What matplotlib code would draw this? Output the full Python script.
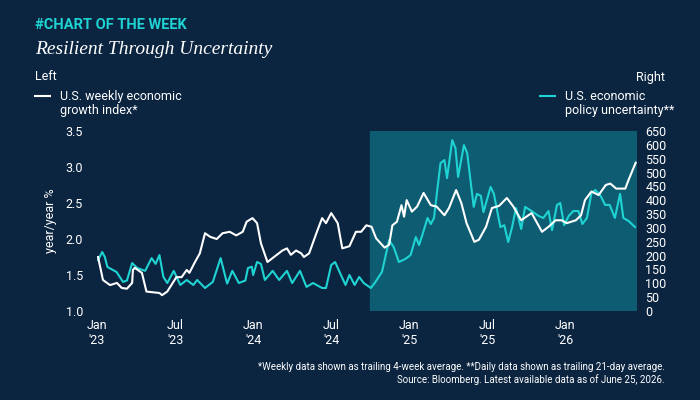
import numpy as np
import matplotlib.pyplot as plt

# months since Jan 2023
growth_m = [0.08, 0.46, 1.0, 1.53, 1.9, 2.3, 2.7, 2.76, 2.9, 3.45, 3.8, 4.8, 5.0, 5.4, 6.1, 6.5, 6.9,
            7.1, 7.5, 7.9, 8.3, 8.7, 9.2, 9.65, 10.2, 10.7, 11.2, 11.5, 11.95, 12.3, 12.6, 13.1, 13.6,
            14.25, 14.6, 14.9, 15.3, 15.7, 15.9, 16.3, 16.9, 17.3, 17.6, 18.0, 18.5, 18.85, 19.4, 19.9,
            20.3, 20.7, 21.1, 21.45, 22.1, 22.45, 22.7, 23.05, 23.4, 23.6, 23.8, 24.2, 24.6, 25.1, 25.65,
            26.1, 26.7, 27.05, 27.6, 28.0, 28.4, 29.0, 29.35, 29.9, 30.35, 30.9, 31.5, 32.0, 32.6, 33.4,
            34.2, 34.7, 35.25, 35.7, 36.1, 36.8, 37.2, 37.5, 38.0, 38.55, 39.1, 39.45, 39.9, 40.6, 40.85, 41.4]
growth = [1.75, 1.43, 1.36, 1.39, 1.32, 1.31, 1.39, 1.57, 1.6, 1.53, 1.27, 1.25, 1.22, 1.27, 1.47, 1.47, 1.57,
          1.53, 1.67, 1.8, 2.08, 2.03, 2.0, 2.08, 2.1, 2.05, 2.1, 2.24, 2.29, 2.22, 1.94, 1.68, 1.75,
          1.84, 1.87, 1.78, 1.84, 1.8, 1.75, 1.8, 2.1, 2.29, 2.22, 2.36, 2.22, 1.87, 1.9, 2.1,
          2.1, 2.19, 2.17, 2.01, 1.88, 1.92, 2.19, 2.24, 2.47, 2.31, 2.54, 2.38, 2.45, 2.64, 2.47,
          2.45, 2.33, 2.43, 2.68, 2.5, 2.22, 1.96, 1.99, 2.17, 2.43, 2.46, 2.57, 2.45, 2.26, 2.36,
          2.1, 2.17, 2.26, 2.26, 2.22, 2.26, 2.33, 2.54, 2.66, 2.61, 2.75, 2.77, 2.7, 2.7, 2.82, 3.06]

unc_m = [0.08, 0.4, 0.6, 0.8, 1.5, 2.0, 2.3, 2.7, 3.1, 3.7, 4.2, 4.5, 4.8, 5.1, 5.4, 5.9, 6.4, 6.9, 7.4,
         7.7, 8.3, 8.9, 9.5, 10.0, 10.4, 10.9, 11.4, 11.6, 11.9, 12.0, 12.3, 12.6, 12.9, 13.5, 14.0,
         14.6, 15.0, 15.6, 16.1, 16.6, 17.3, 17.6, 18.0, 18.3, 18.6, 19.1, 19.4, 19.8, 20.15, 20.5,
         21.05, 21.4, 21.9, 22.45, 22.8, 23.2, 23.7, 24.1, 24.5, 24.75, 25.0, 25.4, 25.65, 25.9, 26.15,
         26.4, 26.7, 26.9, 27.3, 27.55, 27.75, 28.2, 28.45, 28.95, 29.2, 29.5, 29.7, 30.25, 30.5, 31.0,
         31.3, 31.6, 31.9, 32.2, 32.6, 32.9, 33.4, 33.95, 34.3, 34.7, 34.97, 35.35, 35.6, 35.9, 36.25,
         36.6, 37.0, 37.3, 37.65, 38.0, 38.3, 38.7, 39.05, 39.4, 39.8, 40.2, 40.45, 40.85, 41.35]
unc = [184, 213, 195, 159, 141, 105, 110, 173, 155, 145, 191, 170, 202, 123, 101, 145, 94, 112, 94,
       112, 83, 105, 191, 99, 145, 101, 110, 155, 160, 130, 177, 170, 112, 145, 112,
       145, 101, 145, 87, 101, 83, 83, 166, 177, 145, 94, 130, 94, 123, 101,
       83, 105, 141, 256, 231, 177, 188, 202, 267, 238, 274, 336, 314, 336, 437,
       534, 545, 480, 617, 588, 484, 599, 570, 376, 423, 416, 357, 448, 423, 303,
       310, 249, 303, 372, 296, 376, 361, 343, 336, 361, 292, 383, 390, 310, 343,
       361, 361, 314, 336, 426, 437, 416, 383, 383, 336, 423, 336, 325, 303]

tick_pos = [0, 6, 12, 18, 24, 30, 36]
tick_lab = ["Jan\n'23", "Jul\n'23", "Jan\n'24", "Jul\n'24", "Jan\n'25", "Jul\n'25", "Jan\n'26"]

bg = '#0b2440'
cyan = '#1fd3d3'
fg = 'white'
plt.rcParams['font.family'] = ['Roboto', 'DejaVu Sans']

fig = plt.figure(figsize=(7, 4), dpi=100, facecolor=bg)
ax = fig.add_axes([97/700, 1-311/400, 540/700, 180/400])
ax.set_facecolor(bg)
ax.plot(growth_m, growth, color=fg, lw=1.5, zorder=3)
ax.set_xlim(0, 41.5)
ax.set_ylim(1.0, 3.5)
ax.set_yticks(np.arange(1.0, 3.51, 0.5))
ax.set_yticklabels(['%.1f' % v for v in np.arange(1.0, 3.51, 0.5)])
ax.set_xticks(tick_pos)
ax.set_xticklabels(tick_lab)
ax.set_ylabel('year/year %', color=fg, fontsize=9, labelpad=6)

ax2 = ax.twinx()
ax2.axvspan(21.0, 41.5, color='#0e5c72', zorder=0)
ax2.plot(unc_m, unc, color=cyan, lw=1.5, zorder=2)
ax2.set_ylim(0, 650)
ax2.set_yticks(range(0, 651, 50))
# growth line on top, uncertainty + shading beneath
ax.set_zorder(ax2.get_zorder() + 1)
ax.patch.set_visible(False)

for a in (ax, ax2):
    for s in a.spines.values():
        s.set_visible(False)
    a.tick_params(colors=fg, labelsize=9, length=0)
ax.tick_params(axis='y', pad=10)
ax2.tick_params(axis='y', pad=6)
ax.tick_params(axis='x', pad=6)

fig.text(35/700, 1-25/400, '#CHART OF THE WEEK', color=cyan, fontsize=10.5, fontweight='bold',
         va='center', fontstretch='condensed')
fig.text(35/700, 1-50/400, 'Resilient Through Uncertainty', color=fg, fontsize=14, style='italic',
         va='center', family=['Liberation Serif', 'DejaVu Serif'])
fig.text(35/700, 1-77/400, 'Left', color=fg, fontsize=9, va='center')
fig.add_artist(plt.Line2D([35/700, 50/700], [1-96/400, 1-96/400], color=fg, lw=1.5))
fig.text(60/700, 1-90/400, 'U.S. weekly economic\ngrowth index*', color=fg, fontsize=9, va='top',
         linespacing=1.1)
fig.text(665/700, 1-77/400, 'Right', color=fg, fontsize=9, va='center', ha='right')
fig.add_artist(plt.Line2D([540/700, 555/700], [1-96/400, 1-96/400], color=cyan, lw=1.5))
fig.text(565/700, 1-90/400, 'U.S. economic\npolicy uncertainty**', color=fg, fontsize=9, va='top',
         linespacing=1.1)
fig.text(665/700, 1-367/400, '*Weekly data shown as trailing 4-week average. **Daily data shown as trailing 21-day average.',
         color=fg, fontsize=7, ha='right', va='center')
fig.text(665/700, 1-380/400, 'Source: Bloomberg. Latest available data as of June 25, 2026.',
         color=fg, fontsize=7, ha='right', va='center')

fig.savefig('out.png', dpi=100, facecolor=bg)
